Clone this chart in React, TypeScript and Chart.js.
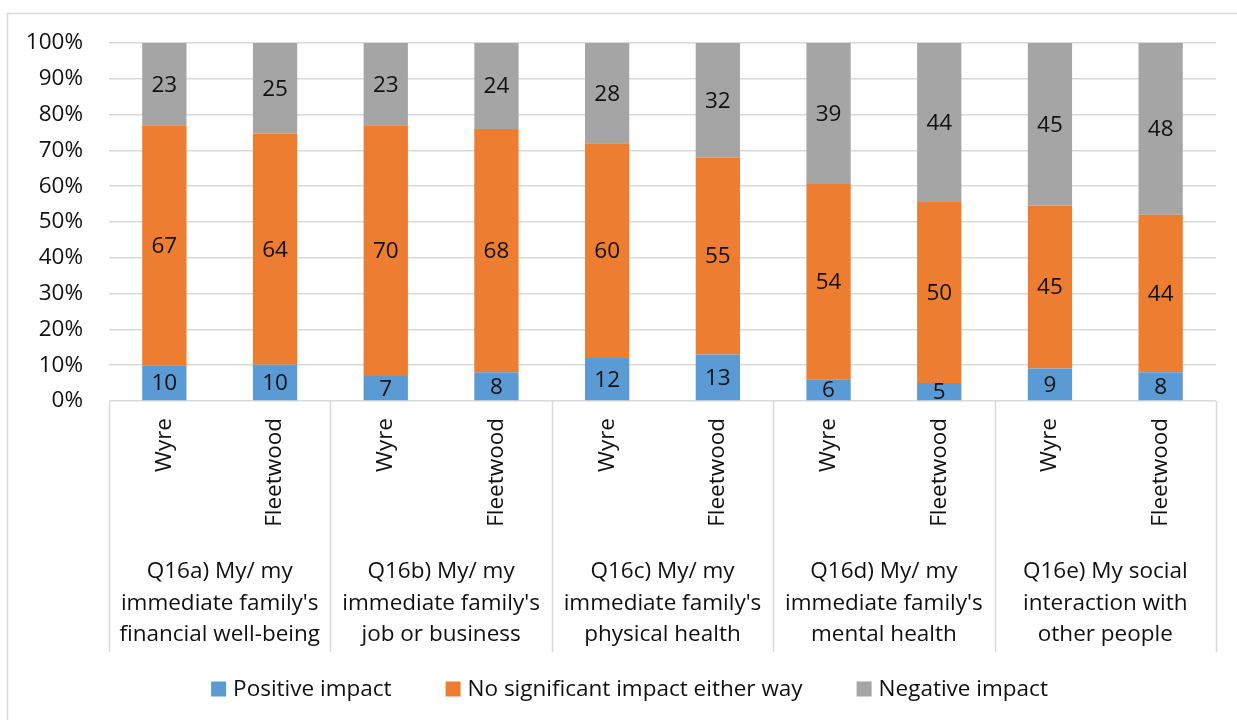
import React, { useEffect, useRef } from "react";
import { Chart, registerables } from "chart.js";

Chart.register(...registerables);

// ---- Data ----
const areas = ["Wyre", "Fleetwood"];
const groupLabels: string[][] = [
  ["Q16a) My/ my", "immediate family's", "financial well-being"],
  ["Q16b) My/ my", "immediate family's", "job or business"],
  ["Q16c) My/ my", "immediate family's", "physical health"],
  ["Q16d) My/ my", "immediate family's", "mental health"],
  ["Q16e) My social", "interaction with", "other people"],
];
const categories: string[] = groupLabels.flatMap(() => areas);
const positive = [10, 10, 7, 8, 12, 13, 6, 5, 9, 8];
const noSignificant = [67, 64, 70, 68, 60, 55, 54, 50, 45, 44];
const negative = [23, 25, 23, 24, 28, 32, 39, 44, 45, 48];
const seriesNames = ["Positive impact", "No significant impact either way", "Negative impact"];
const seriesColors = ["#5B9BD5", "#ED7D31", "#A5A5A5"];
const yTickStep = 10;
const yMax = 100;

const FONT = "'Open Sans'";
const FS = 22.5;
const TEXT = "#111111";
const GRID = "#d9d9d9";

const rawSeries = [positive, noSignificant, negative];
const totals = categories.map((_, i) => rawSeries.reduce((s, arr) => s + arr[i], 0));
const shares = rawSeries.map((arr) => arr.map((v, i) => (v / totals[i]) * 100));

const decorPlugin = {
  id: "decor",
  beforeDraw(chart: any) {
    const ctx = chart.ctx;
    ctx.save();
    ctx.fillStyle = "#ffffff";
    ctx.fillRect(0, 0, chart.width, chart.height);
    ctx.strokeStyle = GRID;
    ctx.lineWidth = 1.5;
    ctx.beginPath();
    ctx.moveTo(7.5, chart.height);
    ctx.lineTo(7.5, 13.5);
    ctx.lineTo(chart.width, 13.5);
    ctx.stroke();
    ctx.restore();
  },
  afterDatasetsDraw(chart: any) {
    const ctx = chart.ctx;
    ctx.save();
    ctx.font = `${FS}px ${FONT}`;
    ctx.fillStyle = TEXT;
    ctx.textAlign = "center";
    ctx.textBaseline = "middle";
    chart.data.datasets.forEach((ds: any, di: number) => {
      const meta = chart.getDatasetMeta(di);
      meta.data.forEach((bar: any, i: number) => {
        const { x, y, base } = bar.getProps(["x", "y", "base"], true);
        ctx.fillText(String(ds.rawValues[i]), x, (y + base) / 2 + 1);
      });
    });
    ctx.restore();
  },
  afterDraw(chart: any) {
    const ctx = chart.ctx;
    const xs = chart.scales.x;
    const area = chart.chartArea;
    ctx.save();
    // group separators
    ctx.strokeStyle = GRID;
    ctx.lineWidth = 1.5;
    const bounds: number[] = [area.left];
    for (let g = 1; g < groupLabels.length; g++) {
      bounds.push((xs.getPixelForValue(2 * g - 1) + xs.getPixelForValue(2 * g)) / 2);
    }
    bounds.push(area.right);
    ctx.beginPath();
    bounds.forEach((bx) => {
      const px = Math.round(bx) + 0.5;
      ctx.moveTo(px, area.bottom);
      ctx.lineTo(px, area.bottom + 251);
    });
    ctx.stroke();
    // group labels
    ctx.font = `${FS}px ${FONT}`;
    ctx.fillStyle = TEXT;
    ctx.textAlign = "center";
    ctx.textBaseline = "middle";
    groupLabels.forEach((lines, g) => {
      const cx = (xs.getPixelForValue(2 * g) + xs.getPixelForValue(2 * g + 1)) / 2;
      lines.forEach((line, li) => {
        ctx.fillText(line, cx, area.bottom + 171 + li * 31.5);
      });
    });
    // legend
    const box = 15;
    const gapText = 7;
    const gapItem = 54;
    const widths = seriesNames.map((n) => ctx.measureText(n).width);
    const total = widths.reduce((s, w) => s + box + gapText + w, 0) + gapItem * (seriesNames.length - 1);
    let lx = chart.width / 2 + 11 - total / 2;
    const ly = 689;
    ctx.textAlign = "left";
    seriesNames.forEach((n, i) => {
      ctx.fillStyle = seriesColors[i];
      ctx.fillRect(lx, ly - box / 2, box, box);
      ctx.fillStyle = TEXT;
      ctx.fillText(n, lx + box + gapText, ly + 1);
      lx += box + gapText + widths[i] + gapItem;
    });
    ctx.restore();
  },
};

export default function App() {
  const ref = useRef<HTMLCanvasElement | null>(null);
  useEffect(() => {
    if (!ref.current) return;
    const chart = new Chart(ref.current, {
      type: "bar",
      data: {
        labels: categories,
        datasets: seriesNames.map((name, i) => ({
          label: name,
          data: shares[i],
          rawValues: rawSeries[i],
          backgroundColor: seriesColors[i],
          borderWidth: 0,
          categoryPercentage: 1,
          barPercentage: 0.4,
        })) as any,
      },
      options: {
        responsive: false,
        maintainAspectRatio: false,
        animation: false,
        layout: { padding: { top: 43, right: 21, left: 0, bottom: 69 } },
        plugins: {
          legend: { display: false },
          tooltip: { enabled: false },
        },
        scales: {
          x: {
            stacked: true,
            grid: { display: false, drawTicks: false },
            border: { display: false },
            ticks: {
              minRotation: 90,
              maxRotation: 90,
              padding: 17,
              color: TEXT,
              font: { family: FONT, size: FS },
            },
            afterFit: (scale: any) => {
              scale.height = 250;
            },
          },
          y: {
            stacked: true,
            min: 0,
            max: yMax,
            grid: { color: GRID, lineWidth: 1.5, drawTicks: false },
            border: { display: false },
            ticks: {
              stepSize: yTickStep,
              padding: 26,
              color: TEXT,
              font: { family: FONT, size: FS },
              callback: (v: any) => `${v}%`,
            },
            afterFit: (scale: any) => {
              scale.width = 109;
            },
          },
        },
      },
      plugins: [decorPlugin],
    });
    return () => chart.destroy();
  }, []);
  return (
    <div style={{ position: "absolute", left: 0, top: 0, width: 1237, height: 720 }}>
      <canvas ref={ref} width={1237} height={720} style={{ display: "block" }} />
    </div>
  );
}
